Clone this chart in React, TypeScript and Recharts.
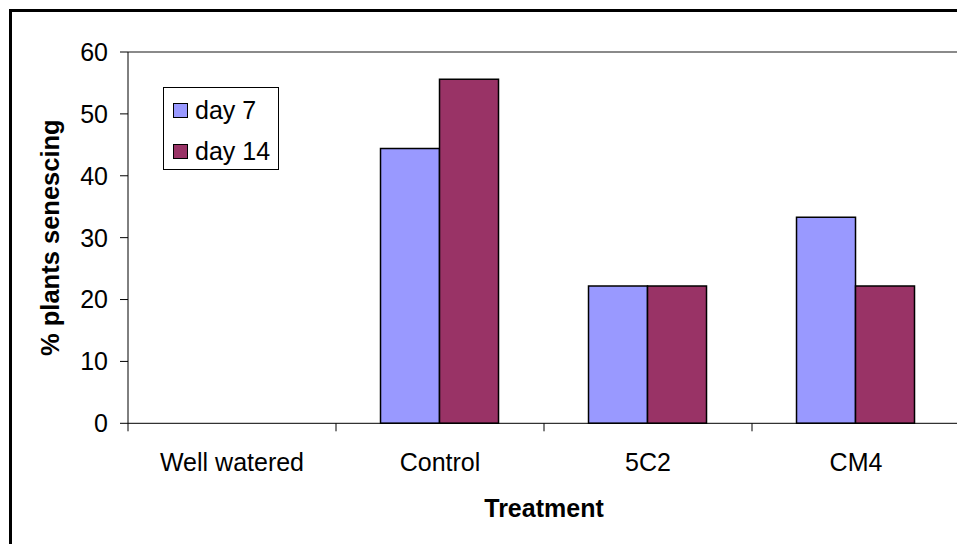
import React from "react";
import { BarChart, Bar, XAxis, YAxis, Legend, ReferenceLine, Label } from "recharts";

const categories = ["Well watered", "Control", "5C2", "CM4"];
const day7 = [0, 44.4, 22.2, 33.3];
const day14 = [0, 55.6, 22.2, 22.2];
const yTicks = [0, 10, 20, 30, 40, 50, 60];
const seriesNames = ["day 7", "day 14"];
const seriesColors = ["#9999FF", "#993366"];

const data = categories.map((c, i) => ({ name: c, d7: day7[i], d14: day14[i] }));

const W = 1000;
const H = 600;
const MARGIN = { top: 44, right: 48, bottom: 84.7, left: 0 };
const Y_W = 120;
const X_H = 100;
const PLOT_LEFT = MARGIN.left + Y_W;
const PLOT_RIGHT = W - MARGIN.right;
const PLOT_BOTTOM = H - MARGIN.bottom - X_H;
const HALF_BAND = (PLOT_RIGHT - PLOT_LEFT) / categories.length / 2;
const FONT = "'Liberation Sans', Arial, sans-serif";

const XTick = (props: any) => {
  const { x, payload, index } = props;
  return (
    <g>
      <line x1={x - HALF_BAND} x2={x - HALF_BAND} y1={PLOT_BOTTOM} y2={PLOT_BOTTOM + 8} stroke="#000" strokeWidth={1} />
      {index === categories.length - 1 && (
        <line x1={x + HALF_BAND} x2={x + HALF_BAND} y1={PLOT_BOTTOM} y2={PLOT_BOTTOM + 8} stroke="#000" strokeWidth={1} />
      )}
      <text x={x} y={PLOT_BOTTOM + 47.7} textAnchor="middle" fontFamily={FONT} fontSize={25} fill="#000">
        {payload.value}
      </text>
    </g>
  );
};

const LegendBox = () => (
  <div
    style={{
      width: 116,
      height: 83,
      border: "1px solid #000",
      boxSizing: "border-box",
      background: "#fff",
      fontFamily: FONT,
      fontSize: 25,
      color: "#000",
      position: "relative",
    }}
  >
    {seriesNames.map((n, i) => (
      <div key={n} style={{ position: "absolute", left: 9, top: 10 + i * 41, display: "flex", alignItems: "center", height: 24 }}>
        <span
          style={{
            display: "inline-block",
            width: 15,
            height: 15,
            background: seriesColors[i],
            border: "1.5px solid #000",
            boxSizing: "border-box",
            marginRight: 7,
          }}
        />
        <span style={{ lineHeight: "24px", whiteSpace: "pre" }}>{n}</span>
      </div>
    ))}
  </div>
);

export default function App() {
  return (
    <div style={{ position: "fixed", left: 0, top: 0, width: 957, height: 544, overflow: "hidden", background: "#fff" }}>
      <div
        style={{
          position: "absolute",
          left: 9,
          top: 9,
          width: 1000,
          height: 600,
          border: "3px solid #000",
          boxSizing: "border-box",
        }}
      />
      <div style={{ position: "absolute", left: 8, top: 8 }}>
        <BarChart width={W} height={H} data={data} margin={MARGIN} barCategoryGap="21.4%" barGap={0}>
          <XAxis
            dataKey="name"
            height={X_H}
            tick={<XTick />}
            tickLine={false}
            axisLine={{ stroke: "#000", strokeWidth: 1 }}
            interval={0}
          >
            <Label
              content={(p: any) => {
                const vb = p.viewBox;
                return (
                  <text
                    x={vb.x + vb.width / 2}
                    y={vb.y + 93.7}
                    textAnchor="middle"
                    fontFamily={FONT}
                    fontSize={25}
                    fontWeight="bold"
                    fill="#000"
                  >
                    Treatment
                  </text>
                );
              }}
            />
          </XAxis>
          <YAxis
            width={Y_W}
            domain={[0, 60]}
            ticks={yTicks}
            interval={0}
            tickSize={8}
            tickMargin={12}
            axisLine={{ stroke: "#000", strokeWidth: 1 }}
            tickLine={{ stroke: "#000", strokeWidth: 1 }}
            tick={{ fontFamily: FONT, fontSize: 25, fill: "#000" }}
          >
            <Label
              content={(p: any) => {
                const vb = p.viewBox;
                const cx = 51;
                const cy = vb.y + vb.height / 2;
                return (
                  <text
                    x={cx}
                    y={cy}
                    transform={`rotate(-90, ${cx}, ${cy})`}
                    textAnchor="middle"
                    fontFamily={FONT}
                    fontSize={25.5}
                    fontWeight="bold"
                    fill="#000"
                  >
                    % plants senescing
                  </text>
                );
              }}
            />
          </YAxis>
          <ReferenceLine y={60} stroke="#8a8a8a" strokeWidth={2} />
          <Legend
            layout="vertical"
            align="center"
            verticalAlign="middle"
            content={() => <LegendBox />}
            wrapperStyle={{ position: "absolute", left: 155, top: 79, width: 116, height: 83 }}
          />
          <Bar dataKey="d7" name={seriesNames[0]} fill={seriesColors[0]} stroke="#000" strokeWidth={1.5} isAnimationActive={false} />
          <Bar dataKey="d14" name={seriesNames[1]} fill={seriesColors[1]} stroke="#000" strokeWidth={1.5} isAnimationActive={false} />
        </BarChart>
      </div>
    </div>
  );
}
